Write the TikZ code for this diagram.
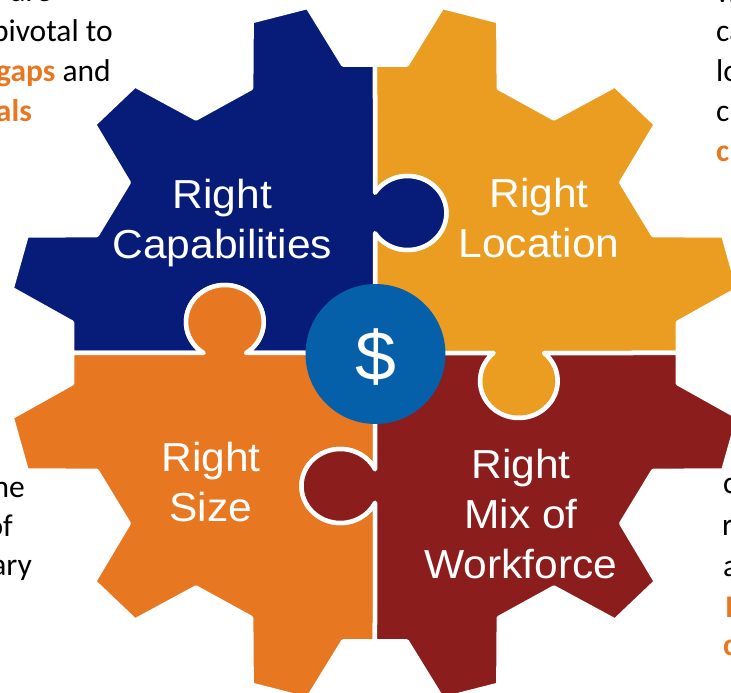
\documentclass[tikz,border=0pt]{standalone}
\usepackage{fontspec}
\setmainfont{Liberation Sans}
\newfontfamily\gearfont[FakeStretch=1.05]{Liberation Sans}
\newfontfamily\sidefont{Carlito}
\definecolor{gearnavy}{RGB}{6,28,120}
\definecolor{geargold}{RGB}{235,157,33}
\definecolor{gearorange}{RGB}{232,119,34}
\definecolor{gearred}{RGB}{140,29,29}
\definecolor{hubblue}{RGB}{6,96,169}
% outer rim of one quarter of the 12-tooth gear, starting at angle #1
\newcommand\gearrim[1]{%
  -- (#1+6:290) -- (#1+10.5:352) -- (#1+19.5:352) -- (#1+24:290)
  -- (#1+36:290) -- (#1+40.5:352) -- (#1+49.5:352) -- (#1+54:290)
  -- (#1+66:290) -- (#1+70.5:352) -- (#1+79.5:352) -- (#1+84:290)}
\tikzset{
  piece/.style={draw=white, line width=4.5pt, line join=round},
  gearlabel/.style={text=white, align=center, inner sep=0pt,
    font=\gearfont\fontsize{40.5}{50}\selectfont},
  sidetext/.style={inner sep=0pt, text=black,
    font=\sidefont\fontsize{31.5}{37}\selectfont},
  accent/.style={sidetext, text=gearorange,
    font=\sidefont\bfseries\fontsize{31.5}{37}\selectfont}
}
\begin{document}
\begin{tikzpicture}[x=1pt,y=1pt]
\path[use as bounding box] (-375,-340) rectangle (356,353);
\clip (-375,-340) rectangle (356,353);

\begin{scope}[xscale=1.05]
  % top right quarter
  \path[piece, fill=geargold] (0,0)
    -- ([shift={(137,-28)}]130.83:37pt) arc[start angle=130.83, end angle=409.17, radius=37pt]
    -- (288.41,0) \gearrim{0} -- (0,288.41)
    -- ([shift={(31,140)}]146.91:37pt) arc[start angle=146.91, end angle=-146.91, radius=37pt]
    -- cycle;
  % top left quarter
  \path[piece, fill=gearnavy] (0,0)
    -- ([shift={(31,140)}]213.09:37pt) arc[start angle=213.09, end angle=506.91, radius=37pt]
    -- (0,288.41) \gearrim{90} -- (-288.41,0)
    -- ([shift={(-143,31)}]236.91:37pt) arc[start angle=236.91, end angle=-56.91, radius=37pt]
    -- cycle;
  % bottom left quarter
  \path[piece, fill=gearorange] (0,0)
    -- ([shift={(-143,31)}]303.09:37pt) arc[start angle=303.09, end angle=596.91, radius=37pt]
    -- (-288.41,0) \gearrim{180} -- (0,-288.41)
    -- ([shift={(-33,-133)}]-26.87:37pt) arc[start angle=-26.87, end angle=-333.13, radius=37pt]
    -- cycle;
  % bottom right quarter
  \path[piece, fill=gearred] (0,0)
    -- ([shift={(-33,-133)}]26.87:37pt) arc[start angle=26.87, end angle=333.13, radius=37pt]
    -- (0,-288.41) \gearrim{270} -- (288.41,0)
    -- ([shift={(137,-28)}]49.17:37pt) arc[start angle=49.17, end angle=-229.17, radius=37pt]
    -- cycle;
\end{scope}

% hub
\node[circle, fill=hubblue, minimum size=140pt, inner sep=0pt] (hub) at (0.5,-1) {};
\node[text=white, inner sep=0pt, font=\gearfont\fontsize{70}{70}\selectfont] (dollar) at (1,-4.5) {\$};

% quarter labels
\node[gearlabel] (cap) at (-152.7,130.3) {Right\\Capabilities};
\node[gearlabel] (loc) at (164,134.5) {Right\\Location};
\node[gearlabel] (size) at (-164,-129.5) {Right\\Size};
\node[gearlabel] (mix) at (146,-161.2) {Right\\Mix of\\Workforce};

% surrounding text running off the edges
\node[sidetext, anchor=base east] (tl1) at (-323,351) {are};
\node[sidetext, anchor=base east] (tl2) at (-262,311.5) {pivotal to};
\node[sidetext, anchor=base east] (tl3) at (-264,271.5) {\textcolor{gearorange}{\bfseries gaps} and};
\node[accent, anchor=base east] (tl4) at (-343,231) {als};

\node[sidetext, anchor=base west] (tr1) at (341,350) {w};
\node[sidetext, anchor=base west] (tr2) at (341,311) {ca};
\node[sidetext, anchor=base west] (tr3) at (341,271) {lo};
\node[sidetext, anchor=base west] (tr4) at (341,231) {c};
\node[accent, anchor=base west] (tr5) at (341,191) {c};

\node[sidetext, anchor=base east] (bl1) at (-350,-144) {ne};
\node[sidetext, anchor=base east] (bl2) at (-362,-183) {of};
\node[sidetext, anchor=base east] (bl3) at (-343,-222) {ary};

\node[sidetext, anchor=base west] (br1) at (348,-141) {c};
\node[sidetext, anchor=base west] (br2) at (347,-182) {r};
\node[sidetext, anchor=base west] (br3) at (348,-223) {a};
\node[accent, anchor=base west] (br4) at (350,-264) {I};
\node[accent, anchor=base west] (br5) at (348,-302) {c};
\end{tikzpicture}
\end{document}
